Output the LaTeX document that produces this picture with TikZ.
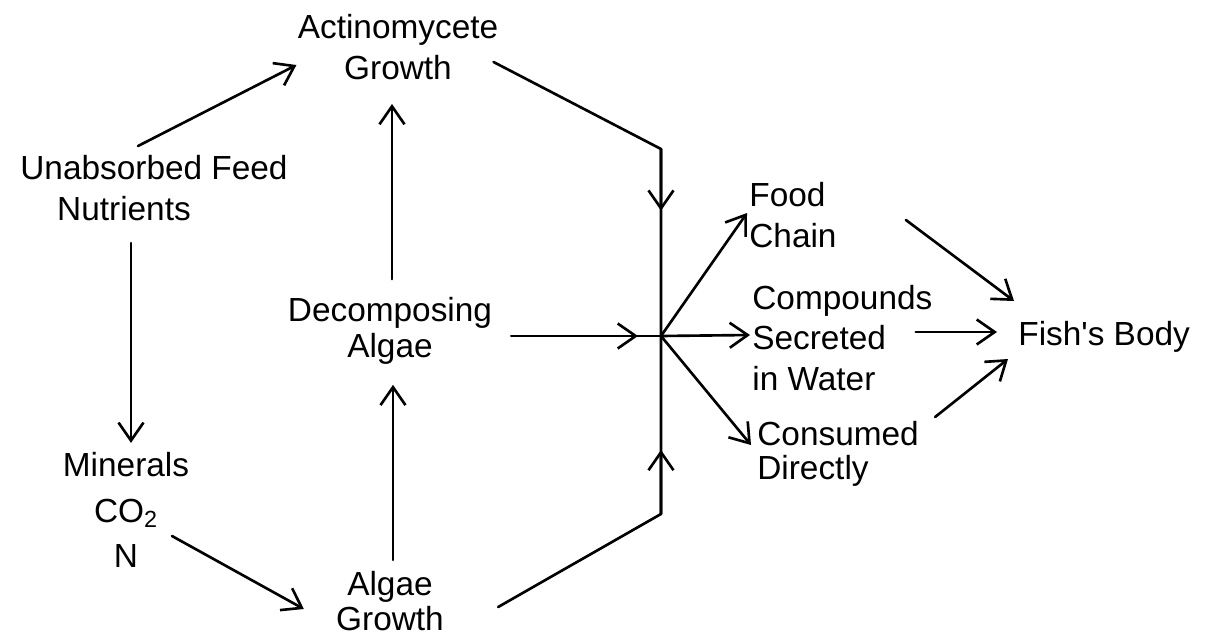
\documentclass[tikz,border=0pt]{standalone}
\usepackage{fontspec}
\setmainfont{Liberation Sans}
\usepackage{tikz}
\usetikzlibrary{arrows.meta,calc}

\begin{document}
\begin{tikzpicture}[
  x=0.02cm,y=-0.02cm,
  font=\fontsize{19}{23.2}\selectfont,
  lbl/.style={inner sep=0pt,align=center,text=black},
  lbll/.style={lbl,align=left,anchor=west},
  link/.style={line width=1.5pt,line cap=round,line join=round},
  flow/.style={link,-{Straight Barb[length=3.6mm,width=5mm]}}
]
\useasboundingbox (0,0) rectangle (1207,636);
\node[lbl] (actino) at (398,47) {Actinomycete\\Growth};
\node[lbl] (unab) at (154,188) {Unabsorbed Feed\\Nutrients\hspace*{1.2cm}};
\node[lbl] (minerals) at (126,510) {Minerals\\[2.8pt]CO\textsubscript{2}\\[2.8pt]N};
\node[lbl] (decomp) at (390,331) {Decomposing\\[-2.8pt]Algae};
\node[lbl] (algae) at (390,601) {Algae\\[-3.4pt]Growth};
\node[lbll] (food) at (749,215) {Food\\Chain};
\node[lbll] (comp) at (752,338) {Compounds\\Secreted\\in Water};
\node[lbll] (cons) at (757,454) {Consumed\\[-4pt]Directly};
\node[lbl,anchor=base west] (fish) at (1018,345) {Fish\textquotesingle s Body};
\coordinate (jn) at (661,336);
\coordinate (bendA) at (661,149);
\coordinate (bendB) at (661,514);
\draw[flow] ($(unab.north)+(-16,-9)$) -- ($(actino.west)+(-1,18)$);
\draw[flow] ($(unab.south)+(-23,22)$) -- ($(minerals.north)+(5,-9)$);
\draw[flow] ($(minerals)+(46,26)$) -- ($(algae.west)+(-32,8)$);
\draw[flow] ($(algae.north)+(3,-11)$) -- ($(decomp.south)+(3,20)$);
\draw[flow] ($(decomp.north)+(2,-18)$) -- ($(actino.south)+(-6,24)$);
\draw[link] ($(actino.east)+(-5,15)$) -- (bendA) -- (jn);
\draw[flow] (bendA) -- ($(bendA)!0.33!(jn)$);
\draw[link] ($(algae.east)+(54,6)$) -- (bendB) -- (jn);
\draw[flow] (bendB) -- ($(bendB)!0.36!(jn)$);
\draw[link] ($(decomp.east)+(19,5)$) -- (jn);
\draw[flow] ($(decomp.east)+(19,5)$) -- ($(jn)+(-23,0)$);
\draw[flow] (jn) -- ($(food.west)+(-2,-2)$);
\draw[flow] (jn) -- ($(comp.west)+(-2,-3)$);
\draw[flow] (jn) -- ($(cons.west)+(-6,-9)$);
\draw[flow] ($(food.east)+(69,5)$) -- ($(fish.base west)+(-4,-44)$);
\draw[flow] ($(comp.east)+(-17,-6)$) -- ($(fish.base west)+(-21,-13)$);
\draw[flow] ($(cons.east)+(16,-37)$) -- ($(fish.base west)+(-10,14)$);
\end{tikzpicture}
\end{document}
